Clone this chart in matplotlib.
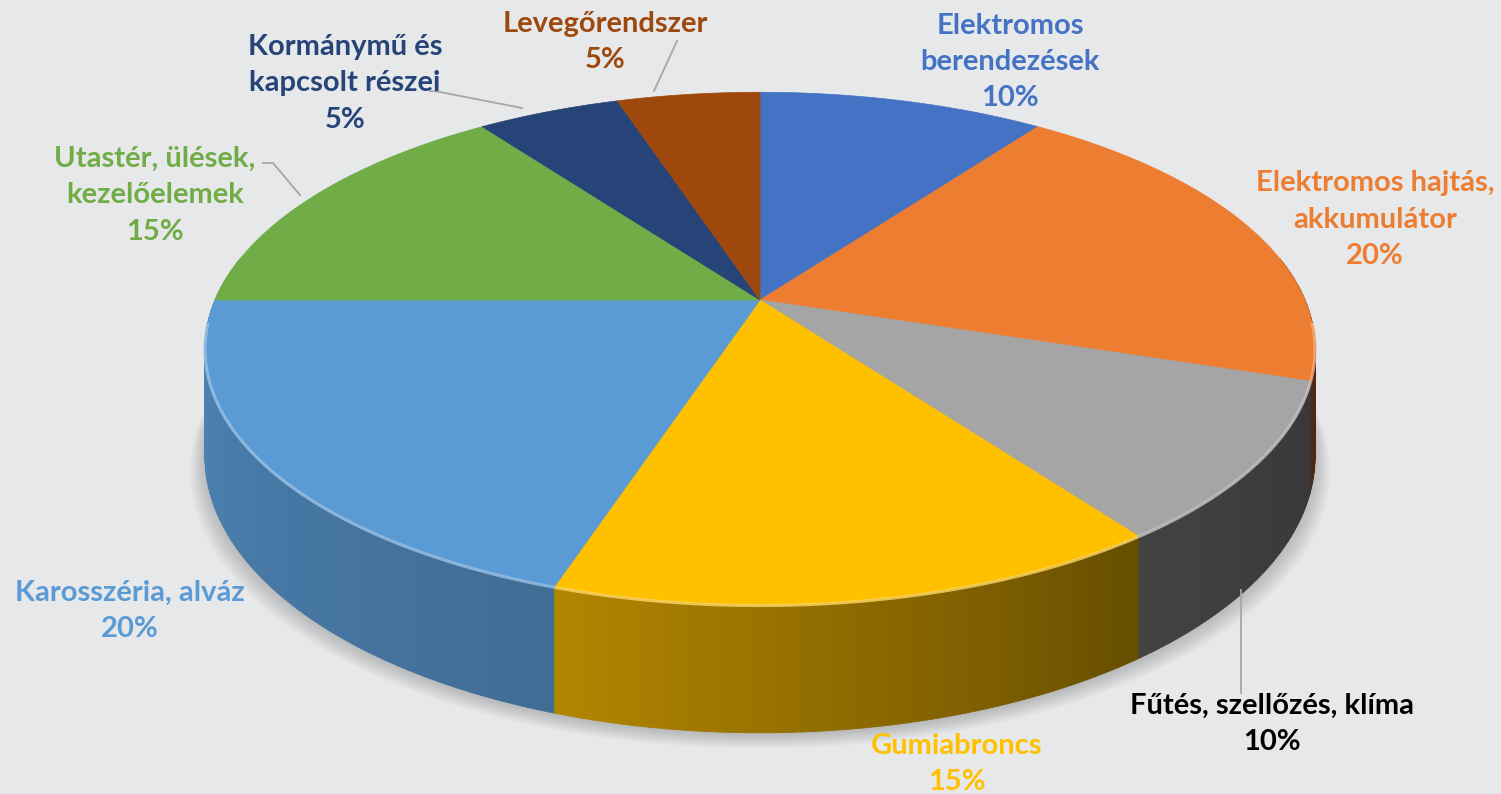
import numpy as np
import matplotlib.pyplot as plt
from matplotlib.patches import Polygon
from matplotlib.colors import to_rgb

plt.rcParams['font.family'] = ['Lato', 'DejaVu Sans']

# Data
labels = [
    "Elektromos\nberendezések",
    "Elektromos hajtás,\nakkumulátor",
    "Fűtés, szellőzés, klíma",
    "Gumiabroncs",
    "Karosszéria, alváz",
    "Utastér, ülések,\nkezelőelemek",
    "Kormánymű és\nkapcsolt részei",
    "Levegőrendszer",
]
shares = [10, 20, 10, 15, 20, 15, 5, 5]
colors = ["#4472C4", "#ED7D31", "#A5A5A5", "#FFC000",
          "#5B9BD5", "#70AD47", "#264478", "#9E480E"]
label_colors = ["#4472C4", "#ED7D31", "#000000", "#FFC000",
                "#5B9BD5", "#70AD47", "#264478", "#9E480E"]

# Layout (pixels)
label_pos = [(1010, 62), (1375, 220), (1272, 724), (957, 764),
             (130, 611), (155, 195), (345, 83), (605, 42)]
leaders = {
    2: [(1241, 693), (1241, 590)],
    5: [(263, 163), (273, 163), (300, 195)],
    6: [(430, 91), (440, 92), (522, 108)],
    7: [(677, 41), (654, 91)],
}

BG = "#E7E8EA"
CX, CY = 760, 300
RX, RY = 545, 247
K = 0.189
DEPTH = 104


def project(theta, z=0.0):
    # theta in degrees, clockwise from the back of the pie
    t = np.radians(theta)
    u = np.sin(t)
    v = -np.cos(t)
    d = 1 - K * v
    return CX + RX * u / d, CY + (RY * v + DEPTH * z) / d


def shade(theta):
    return np.interp(theta, [90, 144, 198, 270], [0.30, 0.40, 0.70, 0.86])


fig = plt.figure(figsize=(15.01, 7.94), dpi=100)
fig.patch.set_facecolor(BG)
ax = fig.add_axes([0, 0, 1, 1])
ax.set_xlim(0, 1501)
ax.set_ylim(794, 0)
ax.axis("off")

bounds = np.concatenate([[0], np.cumsum(shares)]) / sum(shares) * 360

# soft shadow under the pie
ring = np.linspace(0, 360, 361)
for s in range(10):
    sx, sy = project(ring, 1.0)
    sx = CX + (sx - CX) * (1 + 0.003 * s)
    sy = sy + 2 + 1.5 * s
    ax.add_patch(Polygon(np.column_stack([sx, sy]), closed=True,
                         facecolor="black", edgecolor="none", alpha=0.02, zorder=1))

# side walls, drawn back to front
quads = []
for i, c in enumerate(colors):
    a, b = bounds[i], bounds[i + 1]
    steps = np.arange(a, b, 0.5)
    steps = np.append(steps, b)
    for t0, t1 in zip(steps[:-1], steps[1:]):
        tm = (t0 + t1) / 2
        if tm < 80 or tm > 280:
            continue
        x0, y0 = project(t0)
        x1, y1 = project(t1)
        x2, y2 = project(t1, 1.0)
        x3, y3 = project(t0, 1.0)
        depth = -np.cos(np.radians(tm))
        col = np.array(to_rgb(c)) * shade(tm)
        quads.append((depth, [(x0, y0), (x1, y1), (x2, y2), (x3, y3)], col))

quads.sort(key=lambda q: q[0])
for _, pts, col in quads:
    ax.add_patch(Polygon(pts, closed=True, facecolor=col, edgecolor=col,
                         linewidth=0.6, zorder=2))

# top faces
for i, c in enumerate(colors):
    a, b = bounds[i], bounds[i + 1]
    th = np.linspace(a, b, 200)
    xs, ys = project(th)
    pts = np.column_stack([np.concatenate([[CX], xs]), np.concatenate([[CY], ys])])
    ax.add_patch(Polygon(pts, closed=True, facecolor=c, edgecolor=c,
                         linewidth=0.5, zorder=3))

    # bevel highlight on the front rim
    lo, hi = max(a, 95), min(b, 265)
    if hi > lo:
        th = np.linspace(lo, hi, 100)
        xs, ys = project(th)
        hl = np.array(to_rgb(c)) * 0.6 + 0.4
        ax.plot(xs, ys + 1, color=hl, lw=2.2, alpha=0.8, zorder=4,
                solid_capstyle="butt")

# leader lines
for idx, pts in leaders.items():
    xs, ys = zip(*pts)
    ax.plot(xs, ys, color="#A6A6A6", lw=1.3, zorder=5)

# labels
for i, lab in enumerate(labels):
    x, y = label_pos[i]
    ax.text(x, y, f"{lab}\n{shares[i]}%", ha="center", va="center",
            multialignment="center", fontsize=21, fontweight="bold",
            color=label_colors[i], linespacing=1.5, zorder=6)

fig.savefig("out.png", dpi=100, facecolor=BG)
